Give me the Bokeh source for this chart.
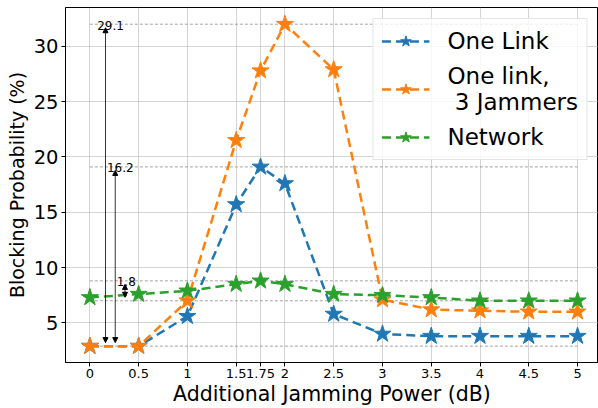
from bokeh.plotting import figure
from bokeh.models import (Range1d, FixedTicker, Legend, LegendItem, Arrow, NormalHead,
                          ColumnDataSource)
from bokeh.core.properties import value
from bokeh.embed import file_html
from bokeh.resources import INLINE

# ---- data ----
power = [0, 0.5, 1, 1.5, 1.75, 2, 2.5, 3, 3.5, 4, 4.5, 5]
one_link = [2.9, 2.9, 5.6, 15.7, 19.1, 17.6, 5.8, 4.0, 3.8, 3.8, 3.8, 3.8]
one_link_3j = [2.9, 2.9, 7.0, 21.5, 27.8, 32.0, 27.9, 7.1, 6.2, 6.1, 6.0, 6.0]
network = [7.3, 7.6, 7.9, 8.5, 8.8, 8.5, 7.6, 7.5, 7.3, 7.0, 7.0, 7.0]
series_names = ["One Link", "One link,\n 3 Jammers", "Network"]
x_tick_labels = ["0", "0.5", "1", "1.5", "1.75", "2", "2.5", "3", "3.5", "4", "4.5", "5"]
y_ticks = [5, 10, 15, 20, 25, 30]

# reference levels & gap annotations
ref_levels = [32.0, 19.1, 8.8, 7.0, 2.9]
gap_low = [2.9, 2.9, 7.0]
gap_high = [32.0, 19.1, 8.8]
gap_x = [0.16, 0.26, 0.36]
gap_labels = ["29.1", "16.2", "1.8"]

colors = ["#1f77b4", "#ff7f0e", "#2ca02c"]
FONT = "DejaVu Sans"
SHRINK = 0.32  # arrow shrink, data units

p = figure(width=598, height=408, output_backend="svg", toolbar_location=None,
           x_range=Range1d(-0.25, 5.215), y_range=Range1d(1.42, 33.51),
           min_border_left=65, min_border_right=0, min_border_top=7, min_border_bottom=45)

p.outline_line_color = "black"
p.outline_line_width = 1
p.background_fill_color = "white"

# grid
p.xgrid.grid_line_color = "#b0b0b0"
p.ygrid.grid_line_color = "#b0b0b0"
p.xgrid.grid_line_alpha = 0.55
p.ygrid.grid_line_alpha = 0.55

# axes
p.xaxis.ticker = FixedTicker(ticks=power)
p.xaxis.major_label_overrides = {t: l for t, l in zip(power, x_tick_labels)}
p.yaxis.ticker = FixedTicker(ticks=y_ticks)
for ax in (p.xaxis[0], p.yaxis[0]):
    ax.axis_line_color = "black"
    ax.major_tick_line_color = "black"
    ax.major_tick_out = 4
    ax.major_tick_in = 0
    ax.minor_tick_line_color = None
    ax.major_label_text_font = FONT
    ax.axis_label_text_font = FONT
    ax.axis_label_text_font_style = "normal"
    ax.axis_label_text_color = "black"
    ax.major_label_text_color = "black"
p.xaxis.major_label_text_font_size = "13px"
p.yaxis.major_label_text_font_size = "19.5px"
p.xaxis.major_label_standoff = 2
p.yaxis.major_label_standoff = 3
p.xaxis.axis_label_standoff = 1
p.yaxis.axis_label_standoff = 3
p.xaxis.axis_label_text_font_size = "20.5px"
p.yaxis.axis_label_text_font_size = "19px"
p.xaxis.axis_label = "Additional Jamming Power (dB)"
p.yaxis.axis_label = "Blocking Probability (%)"

# reference levels
for lv in ref_levels:
    p.line(x=[power[0], power[-1]], y=[lv, lv], line_color="gray", line_width=0.8,
           line_dash="3 2", line_alpha=0.9)

# gap arrows
for xa, lo, hi in zip(gap_x, gap_low, gap_high):
    p.add_layout(Arrow(x_start=xa, y_start=lo + SHRINK, x_end=xa, y_end=hi - SHRINK,
                       line_color="black", line_width=0.8,
                       start=NormalHead(size=5, fill_color="black", line_color="black"),
                       end=NormalHead(size=5, fill_color="black", line_color="black")))
src = ColumnDataSource(dict(x=[x - 0.085 for x in gap_x], y=gap_high, t=gap_labels))
p.text(x="x", y="y", text="t", source=src, text_font=value(FONT), text_font_size="12px",
       text_color="black", text_baseline="alphabetic", y_offset=1)

# series
items = []
for ys, c, name in zip([one_link, one_link_3j, network], colors, series_names):
    lr = p.line(x=power, y=ys, line_color=c, line_width=2.5, line_dash="9 5")
    sr = p.scatter(x=power, y=ys, marker="star", size=18, fill_color=c, line_color=c)
    items.append(LegendItem(label=name, renderers=[lr, sr]))

legend = Legend(items=items, location="top_right", margin=11,
                label_text_font=FONT, label_text_font_size="23px", label_text_color="black",
                glyph_width=48, glyph_height=28, label_standoff=18,
                spacing=8, padding=8,
                border_line_color="#cccccc", border_line_width=1,
                background_fill_color="white", background_fill_alpha=0.8)
p.add_layout(legend, "center")

open("out.html", "w").write(file_html(p, INLINE))
